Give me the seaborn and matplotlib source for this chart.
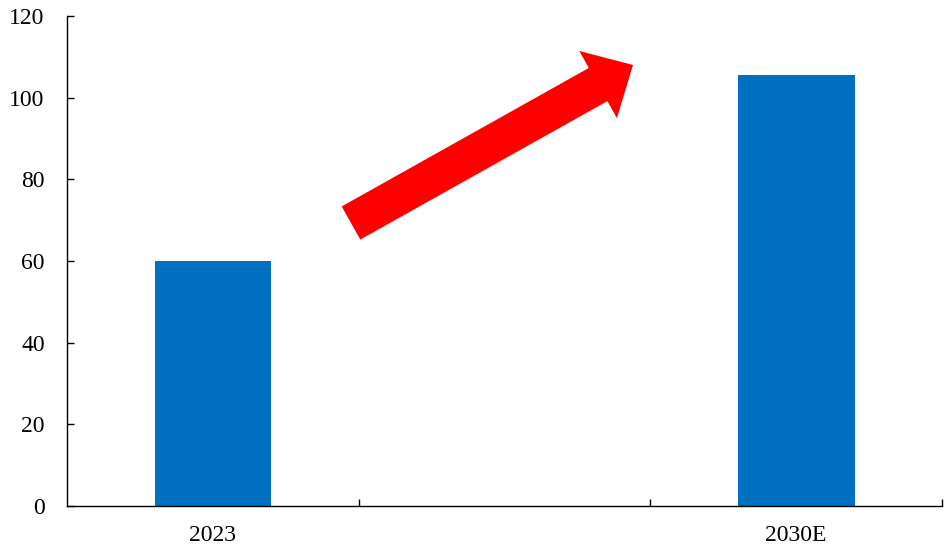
import matplotlib
matplotlib.use("Agg")
import matplotlib.pyplot as plt
import seaborn as sns
import pandas as pd
import numpy as np
from matplotlib.patches import FancyArrow

categories = ["2023", " ", "2030E"]
values = [60.0, np.nan, 105.5]
yticks = [0, 20, 40, 60, 80, 100, 120]

sns.set_theme(style="white")
plt.rcParams["font.family"] = ["Liberation Serif", "DejaVu Serif"]

df = pd.DataFrame({"cat": categories, "val": values})

fig = plt.figure(figsize=(9.5, 5.5), dpi=100)
ax = fig.add_axes([67/950, 44/550, 875/950, 490/550])

sns.barplot(data=df, x="cat", y="val", order=categories, color="#0070C0",
            width=0.4, saturation=1, ax=ax, errorbar=None, linewidth=0)

ax.set_xlim(-0.5, 2.5)
ax.set_ylim(0, 120)
ax.set_yticks(yticks)
ax.set_yticklabels([str(t) for t in yticks])
ax.set_xlabel("")
ax.set_ylabel("")

ax.set_xticks(range(len(categories)))
ax.set_xticklabels(categories)
ax.set_xticks([0.5, 1.5, 2.5], minor=True)
ax.tick_params(axis="x", which="major", length=0, pad=14, labelsize=17, colors="black")
ax.tick_params(axis="x", which="minor", length=5, width=1, direction="in", color="black", bottom=True)
ax.tick_params(axis="y", which="major", length=5, width=1, direction="in", pad=16, labelsize=17,
               colors="black", left=True)

for s in ["top", "right"]:
    ax.spines[s].set_visible(False)
for s in ["left", "bottom"]:
    ax.spines[s].set_color("black")
    ax.spines[s].set_linewidth(1.0)

# red trend arrow (decoration), in figure inches (isotropic)
x0, y0 = 351/100, (550-223)/100
dx, dy = 282/100, 158/100
arrow = FancyArrow(x0, y0, dx, dy, width=0.38, head_width=0.77, head_length=0.40,
                   length_includes_head=True, color="#FF0000", lw=0,
                   transform=fig.dpi_scale_trans)
fig.patches.append(arrow)

fig.savefig("out.png", dpi=100)
